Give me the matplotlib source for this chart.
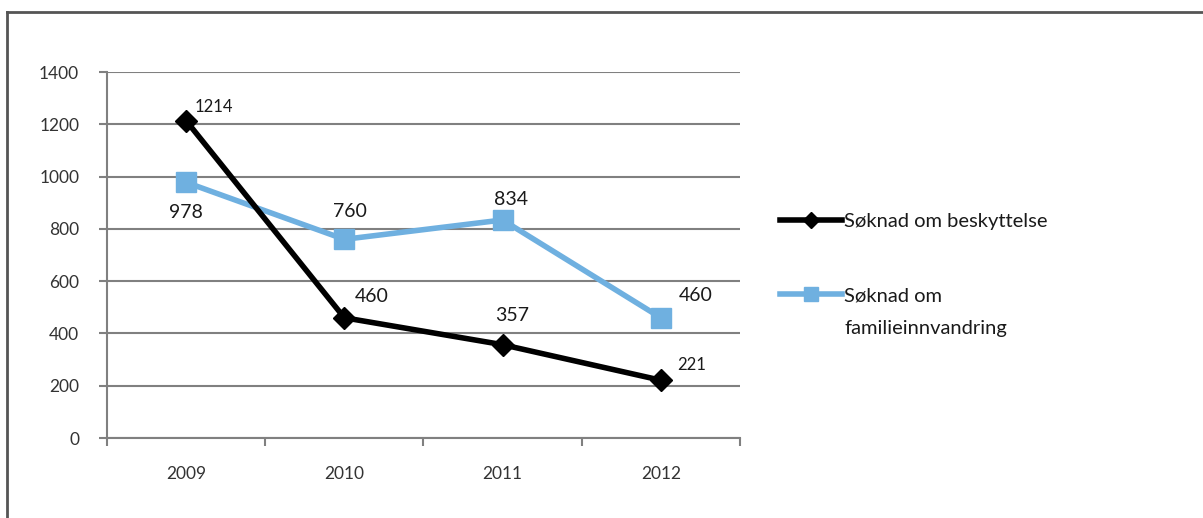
import matplotlib.pyplot as plt
from matplotlib import font_manager
from matplotlib.lines import Line2D
from matplotlib.text import Annotation

years = ["2009", "2010", "2011", "2012"]
beskyttelse = [1214, 460, 357, 221]
familie = [978, 760, 834, 460]
navn = ["Søknad om beskyttelse", "Søknad om", "familieinnvandring"]

# etikett-forskyvning i punkter (dx, dy) og størrelse
besk_off = [(20, 10), (20, 15), (7, 21), (22, 11)]
besk_size = [12, 14, 14, 12]
fam_off = [(0, -22), (4, 20), (6, 15), (25, 16)]
fam_size = [14, 14, 14, 14]

names = {f.name for f in font_manager.fontManager.ttflist}
fam = "Lato" if "Lato" in names else "DejaVu Sans"
plt.rcParams["font.family"] = [fam, "DejaVu Sans"]

svart = "#000000"
blaa = "#6FB0E0"
graa = "#808080"
tekst = "#1a1a1a"

fig = plt.figure(figsize=(12.03, 5.18), dpi=100)
ax = fig.add_axes([0.0889, 0.1544, 0.5262, 0.7066])

x = list(range(len(years)))
ax.plot(x, beskyttelse, color=svart, lw=4, marker="D", ms=11,
        label=navn[0], zorder=4)
ax.plot(x, familie, color=blaa, lw=4, marker="s", ms=14,
        label=navn[1], zorder=3)

for i in x:
    ax.annotate(str(beskyttelse[i]), (i, beskyttelse[i]), xytext=besk_off[i],
                textcoords="offset points", ha="center", va="center",
                fontsize=besk_size[i], color=tekst)
    ax.annotate(str(familie[i]), (i, familie[i]), xytext=fam_off[i],
                textcoords="offset points", ha="center", va="center",
                fontsize=fam_size[i], color=tekst)

ax.set_xlim(-0.5, 3.5)
ax.set_ylim(0, 1400)
ax.set_yticks(range(0, 1401, 200))
ax.set_xticks(x)
ax.set_xticklabels(years)
ax.set_xticks([-0.5, 0.5, 1.5, 2.5, 3.5], minor=True)
ax.tick_params(axis="x", which="major", length=0, pad=20, labelsize=12.5)
ax.tick_params(axis="x", which="minor", length=6, width=1.5, color=graa)
ax.tick_params(axis="y", length=6, width=1.5, color=graa, pad=14, labelsize=12.5)
for t in ax.get_yticklabels() + ax.get_xticklabels():
    t.set_color("#333333")

ax.grid(axis="y", color=graa, lw=1.5)
ax.set_axisbelow(True)
for s in ["top", "right"]:
    ax.spines[s].set_visible(False)
ax.spines["left"].set_color(graa)
ax.spines["left"].set_linewidth(1.5)
ax.spines["bottom"].set_color(graa)
ax.spines["bottom"].set_linewidth(1.5)

leg = fig.legend(loc="upper left", bbox_to_anchor=(0.6417, 0.605), frameon=False,
                 fontsize=14.5, handlelength=3.1, handletextpad=0.1,
                 labelspacing=2.85, borderaxespad=0, markerscale=0.75)
for t in leg.get_texts():
    t.set_color(tekst)

# andre linje av etiketten under "Søknad om"
linje2 = Annotation(navn[2], xy=(0, 0), xycoords=leg.get_texts()[1],
                    xytext=(0, -11), textcoords="offset points",
                    ha="left", va="top", fontsize=14.5, color=tekst)
linje2.set_zorder(6)
fig.add_artist(linje2)

# ramme
fig.add_artist(Line2D([7 / 1203, 7 / 1203], [0, 1 - 12 / 518], color="#555555", lw=2))
fig.add_artist(Line2D([7 / 1203, 1], [1 - 12 / 518, 1 - 12 / 518], color="#555555", lw=2))

fig.savefig("out.png", dpi=100)
